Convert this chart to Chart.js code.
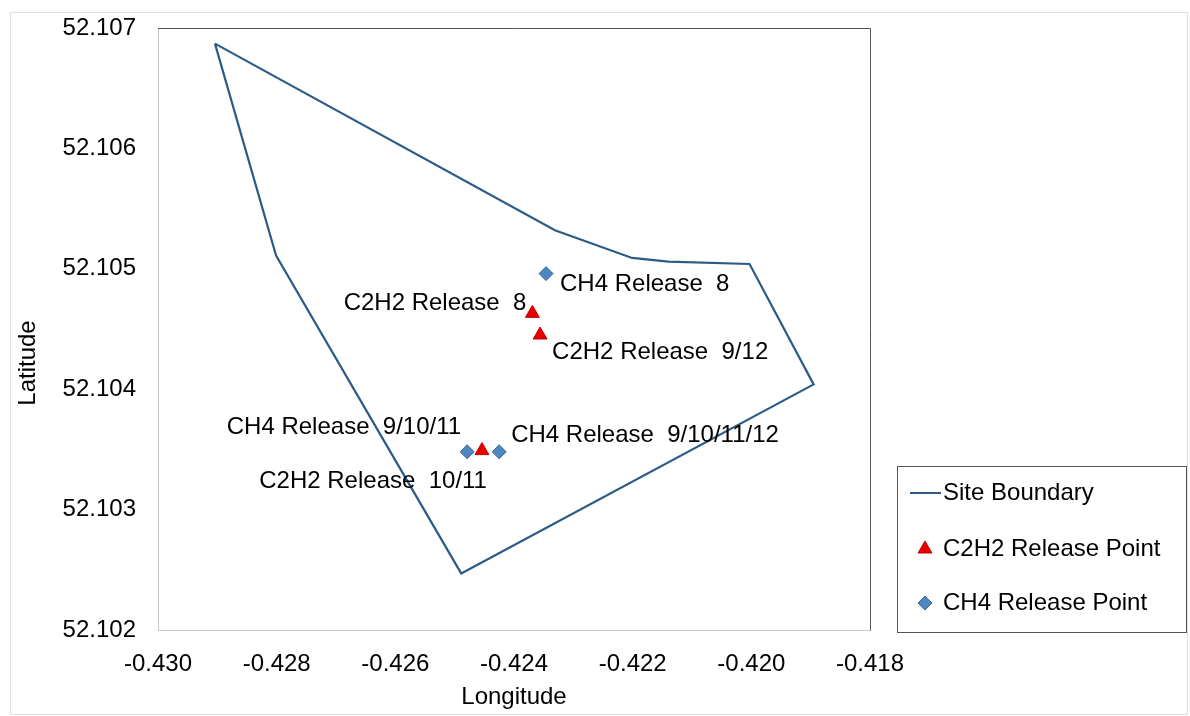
<!DOCTYPE html>
<html>
<head>
<meta charset="utf-8">
<script src="https://cdn.jsdelivr.net/npm/chart.js@4/dist/chart.umd.min.js"></script>
<style>
  html, body { margin: 0; padding: 0; background: #fff; }
  #wrap { width: 1190px; height: 716px; position: relative; }
</style>
</head>
<body>
<div id="wrap"><canvas id="chart" width="1190" height="716"></canvas></div>
<script>
// site boundary polygon (lon, lat), closed
const boundaryLon = [-0.42904, -0.42331, -0.42201, -0.42140, -0.42003, -0.41895, -0.42489, -0.42801, -0.42904];
const boundaryLat = [52.10687, 52.10532, 52.10509, 52.10506, 52.10504, 52.10404, 52.10247, 52.10511, 52.10687];

// release points
const c2h2Lon = [-0.42369, -0.42356, -0.42454];
const c2h2Lat = [52.10463, 52.10445, 52.10349];
const c2h2Labels = ["C2H2 Release  8", "C2H2 Release  9/12", "C2H2 Release  10/11"];

const ch4Lon = [-0.42346, -0.42479, -0.42425];
const ch4Lat = [52.10496, 52.10348, 52.10348];
const ch4Labels = ["CH4 Release  8", "CH4 Release  9/10/11", "CH4 Release  9/10/11/12"];

const xTicks = [-0.430, -0.428, -0.426, -0.424, -0.422, -0.420, -0.418];
const yTicks = [52.102, 52.103, 52.104, 52.105, 52.106, 52.107];

const seriesNames = ["Site Boundary", "C2H2 Release Point", "CH4 Release Point"];

const FONT = "'Liberation Sans', Arial, sans-serif";
const FS = 24;

// label placement relative to the point: [dx, dy, align]
const c2h2Place = [[-6, -10, "right"], [12, 17, "left"], [5, 31, "right"]];
const ch4Place = [[14, 11, "left"], [-6, -24, "right"], [12, -16, "left"]];

const pts = (xs, ys) => xs.map((x, i) => ({ x: x, y: ys[i] }));

const labelPlugin = {
  id: "pointLabels",
  afterDatasetsDraw(chart) {
    const ctx = chart.ctx;
    ctx.save();
    ctx.font = FS + "px " + FONT;
    ctx.fillStyle = "#000";
    ctx.textBaseline = "middle";
    const draw = (dsIndex, labels, place) => {
      chart.getDatasetMeta(dsIndex).data.forEach((el, i) => {
        const p = place[i];
        ctx.textAlign = p[2];
        ctx.fillText(labels[i], el.x + p[0], el.y + p[1]);
      });
    };
    draw(1, c2h2Labels, c2h2Place);
    draw(2, ch4Labels, ch4Place);
    ctx.restore();
  }
};

const framePlugin = {
  id: "frame",
  afterDraw(chart) {
    const ctx = chart.ctx;
    const a = chart.chartArea;
    ctx.save();
    // outer chart border
    ctx.strokeStyle = "#e0e0e0";
    ctx.lineWidth = 1;
    ctx.strokeRect(10.5, 12.5, 1177, 702);
    // plot area border
    ctx.strokeStyle = "#c8c8c8";
    ctx.beginPath();
    ctx.moveTo(a.left + 0.5, a.top);
    ctx.lineTo(a.left + 0.5, a.bottom + 0.5);
    ctx.lineTo(a.right, a.bottom + 0.5);
    ctx.stroke();
    ctx.strokeStyle = "#555";
    ctx.beginPath();
    ctx.moveTo(a.left, a.top + 0.5);
    ctx.lineTo(a.right + 0.5, a.top + 0.5);
    ctx.lineTo(a.right + 0.5, a.bottom + 0.5);
    ctx.stroke();

    // y axis title
    ctx.save();
    ctx.translate(28, 363);
    ctx.rotate(-Math.PI / 2);
    ctx.font = FS + "px " + FONT;
    ctx.fillStyle = "#000";
    ctx.textAlign = "center";
    ctx.textBaseline = "middle";
    ctx.fillText("Latitude", 0, 0);
    ctx.restore();

    // legend box
    const lx = 897, ly = 466, lw = 289, lh = 166;
    ctx.strokeStyle = "#555";
    ctx.lineWidth = 1;
    ctx.strokeRect(lx + 0.5, ly + 0.5, lw, lh);
    const rows = [493, 549, 603];
    const ds = chart.data.datasets;
    // line sample
    ctx.strokeStyle = ds[0].borderColor;
    ctx.lineWidth = 2;
    ctx.beginPath();
    ctx.moveTo(910, rows[0]);
    ctx.lineTo(941, rows[0]);
    ctx.stroke();
    const drawMarker = (d, y) => {
      ctx.fillStyle = d.backgroundColor;
      ctx.strokeStyle = d.borderColor;
      ctx.lineWidth = d.borderWidth;
      Chart.helpers.drawPoint(ctx, {
        pointStyle: d.pointStyle, radius: d.pointRadius, borderWidth: d.borderWidth, rotation: 0
      }, 925, y);
    };
    drawMarker(ds[1], rows[1]);
    drawMarker(ds[2], rows[2]);
    ctx.font = FS + "px " + FONT;
    ctx.fillStyle = "#000";
    ctx.textBaseline = "middle";
    ctx.textAlign = "left";
    ctx.fillText(seriesNames[0], 943, rows[0]);
    ctx.fillText(seriesNames[1], 943, rows[1]);
    ctx.fillText(seriesNames[2], 943, rows[2]);
    ctx.restore();
  }
};

new Chart(document.getElementById("chart"), {
  type: "scatter",
  data: {
    datasets: [
      {
        label: seriesNames[0],
        data: pts(boundaryLon, boundaryLat),
        showLine: true,
        borderColor: "#2c5b87",
        borderWidth: 2.2,
        pointRadius: 0,
        fill: false,
        tension: 0
      },
      {
        label: seriesNames[1],
        data: pts(c2h2Lon, c2h2Lat),
        pointStyle: "triangle",
        pointRadius: 8,
        backgroundColor: "#e60000",
        borderColor: "#c00000",
        borderWidth: 1
      },
      {
        label: seriesNames[2],
        data: pts(ch4Lon, ch4Lat),
        pointStyle: "rectRot",
        pointRadius: 7,
        backgroundColor: "#4f86c0",
        borderColor: "#3b6a9c",
        borderWidth: 1
      }
    ]
  },
  options: {
    responsive: false,
    animation: false,
    layout: { padding: { left: 0, right: 320, top: 28, bottom: 0 } },
    plugins: {
      legend: { display: false },
      tooltip: { enabled: false }
    },
    scales: {
      x: {
        type: "linear",
        min: -0.430,
        max: -0.418,
        afterBuildTicks: (s) => { s.ticks = xTicks.map(v => ({ value: v })); },
        afterFit: (s) => { s.height = 86; s.paddingLeft = 0; s.paddingRight = 0; },
        grid: { display: false, drawTicks: false },
        border: { display: false },
        ticks: {
          padding: 20,
          color: "#000",
          font: { family: FONT, size: FS },
          maxRotation: 0,
          callback: (v) => Number(v).toFixed(3)
        },
        title: {
          display: true,
          text: "Longitude",
          color: "#000",
          font: { family: FONT, size: FS },
          padding: { top: 0 }
        }
      },
      y: {
        type: "linear",
        min: 52.102,
        max: 52.107,
        afterBuildTicks: (s) => { s.ticks = yTicks.map(v => ({ value: v })); },
        afterFit: (s) => { s.width = 158; s.paddingTop = 0; s.paddingBottom = 0; },
        grid: { display: false, drawTicks: false },
        border: { display: false },
        ticks: {
          padding: 22,
          color: "#000",
          font: { family: FONT, size: FS },
          callback: (v) => Number(v).toFixed(3)
        }
      }
    }
  },
  plugins: [labelPlugin, framePlugin]
});
</script>
</body>
</html>
